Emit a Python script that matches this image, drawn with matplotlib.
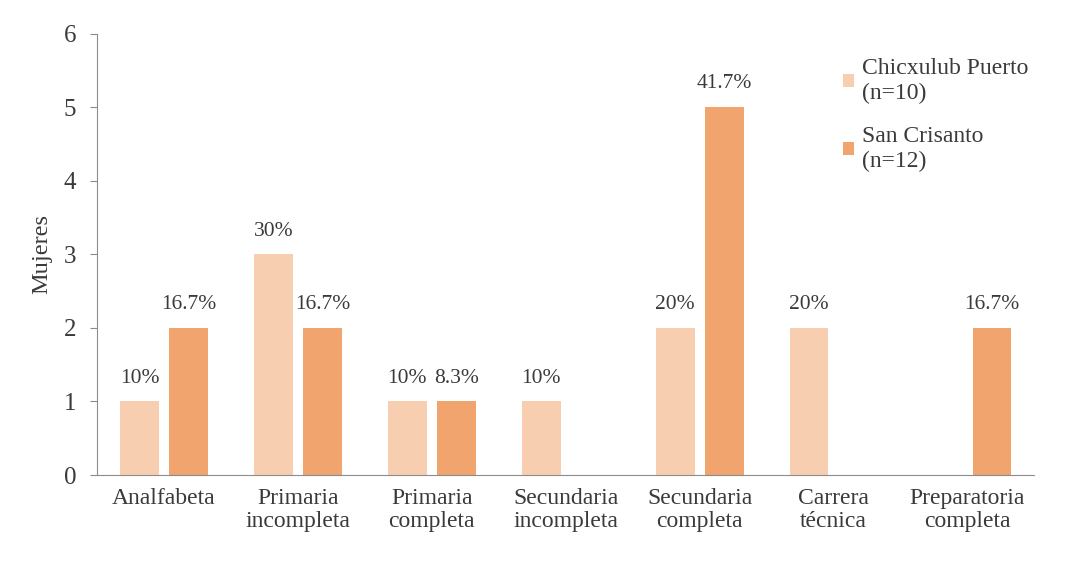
import numpy as np
import matplotlib.pyplot as plt

plt.rcParams['font.family'] = ['Liberation Serif', 'DejaVu Serif']

categorias = ['Analfabeta', 'Primaria\nincompleta', 'Primaria\ncompleta',
              'Secundaria\nincompleta', 'Secundaria\ncompleta', 'Carrera\ntécnica',
              'Preparatoria\ncompleta']
chicxulub = [1, 3, 1, 1, 2, 2, 0]
san_crisanto = [2, 2, 1, 0, 5, 0, 2]
pct_chicxulub = ['10%', '30%', '10%', '10%', '20%', '20%', '']
pct_san_crisanto = ['16.7%', '16.7%', '8.3%', '', '41.7%', '', '16.7%']

c_claro = '#F8CEB1'
c_oscuro = '#F2A46E'
gris = '#8C8C8C'
texto = '#3A3A3A'

fig = plt.figure(figsize=(10.7, 5.73), dpi=100)
ax = fig.add_axes([0.0907, 0.171, 0.876, 0.77])

x = np.arange(len(categorias))
w = 0.29
off = 0.183
b1 = ax.bar(x - off, chicxulub, w, color=c_claro, label='Chicxulub Puerto\n(n=10)')
b2 = ax.bar(x + off, san_crisanto, w, color=c_oscuro, label='San Crisanto\n(n=12)')

for bars, labels in ((b1, pct_chicxulub), (b2, pct_san_crisanto)):
    for b, lab in zip(bars, labels):
        if lab:
            ax.annotate(lab, (b.get_x() + b.get_width() / 2, b.get_height()),
                        xytext=(0, 10), textcoords='offset points',
                        ha='center', va='bottom', fontsize=15.5, color=texto)

ax.set_xlim(-0.5, len(categorias) - 0.5)
ax.set_ylim(0, 6)
ax.set_yticks(range(7))
ax.set_xticks(x)
ax.set_xticklabels(categorias, fontsize=17, color=texto, linespacing=1.15)
ax.tick_params(axis='x', length=0, pad=9)
ax.tick_params(axis='y', labelsize=18, labelcolor=texto, color=gris, length=5, pad=10)
ax.set_ylabel('Mujeres', fontsize=17.5, color=texto, labelpad=8)

for s in ('top', 'right'):
    ax.spines[s].set_visible(False)
for s in ('left', 'bottom'):
    ax.spines[s].set_color(gris)

leg = fig.legend(loc='upper left', bbox_to_anchor=(0.768, 0.935), frameon=False,
                 fontsize=17, handlelength=0.45, handleheight=0.45, handletextpad=0.35,
                 labelspacing=0.95, labelcolor=texto)
for t in leg.get_texts():
    t.set_linespacing(1.2)

fig.savefig('out.png', dpi=100)
